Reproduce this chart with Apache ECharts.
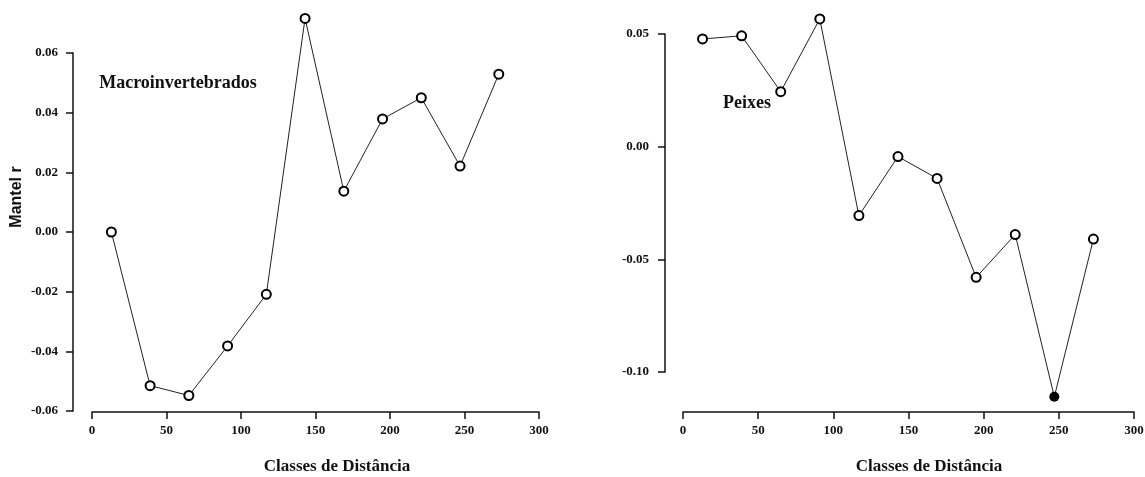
<!DOCTYPE html>
<html>
<head>
<meta charset="utf-8">
<script src="https://cdn.jsdelivr.net/npm/echarts@6/dist/echarts.min.js"></script>
<style>
  html, body { margin: 0; padding: 0; background: #fff; }
  #chart { width: 1145px; height: 477px; }
</style>
</head>
<body>
<div id="chart"></div>
<script>
// classes de distância (centro de cada classe)
var distClasses = [13, 39, 65, 91, 117, 143, 169, 195, 221, 247, 273];
// Mantel r - macroinvertebrados
var macroR = [0.000, -0.0515, -0.0548, -0.0382, -0.0209, 0.0716, 0.0137, 0.0379, 0.0450, 0.0221, 0.0529];
// Mantel r - peixes
var peixesR = [0.0478, 0.0492, 0.0244, 0.0567, -0.0306, -0.0044, -0.0141, -0.0580, -0.0390, -0.1110, -0.0410];
// classe significativa (ponto cheio) nos peixes
var peixesSig = [false, false, false, false, false, false, false, false, false, true, false];

var xTicks = [0, 300, 50];
var macroTicks = [-0.06, 0.06, 0.02];
var peixesTicks = [-0.10, 0.05, 0.05];

var serif = 'Liberation Serif';
var ink = '#111';

function toPairs(ys, sig) {
  return distClasses.map(function (x, i) {
    var d = { value: [x, ys[i]] };
    if (sig && sig[i]) {
      d.symbol = 'circle';
      d.symbolSize = 10;
    }
    return d;
  });
}

function xAxisFor(idx, offset) {
  return {
    type: 'value', gridIndex: idx,
    min: xTicks[0], max: xTicks[1], interval: xTicks[2],
    offset: offset,
    axisLine: { onZero: false, lineStyle: { color: ink, width: 1.5 } },
    axisTick: { length: 7, lineStyle: { color: ink, width: 1.5 } },
    axisLabel: { fontFamily: serif, fontSize: 13, fontWeight: 'bold', color: ink, margin: 12 },
    splitLine: { show: false }
  };
}

function yAxisFor(idx, ticks, offset, margin) {
  return {
    type: 'value', gridIndex: idx,
    min: ticks[0], max: ticks[1], interval: ticks[2],
    offset: offset,
    axisLine: { show: true, onZero: false, lineStyle: { color: ink, width: 1.5 } },
    axisTick: { show: true, length: 7, lineStyle: { color: ink, width: 1.5 } },
    axisLabel: {
      fontFamily: serif, fontSize: 13, fontWeight: 'bold', color: ink, margin: margin,
      formatter: function (v) { return v.toFixed(2); }
    },
    splitLine: { show: false }
  };
}

function lineSeries(idx, ys, sig) {
  return {
    type: 'line', xAxisIndex: idx, yAxisIndex: idx,
    data: toPairs(ys, sig),
    clip: false,
    showSymbol: true, showAllSymbol: true,
    symbol: 'emptyCircle', symbolSize: 9,
    lineStyle: { color: '#222', width: 1 },
    itemStyle: { color: '#000', borderWidth: 1.6 },
    emphasis: { disabled: true },
    z: 3
  };
}

function label(text, x, y, size, extra) {
  var st = { text: text, fontFamily: serif, fontSize: size, fontWeight: 'bold', fill: ink, align: 'center', verticalAlign: 'middle' };
  var el = { type: 'text', x: x, y: y, style: st };
  if (extra) { for (var k in extra) el[k] = extra[k]; }
  return el;
}

var chart = echarts.init(document.getElementById('chart'));
chart.setOption({
  animation: false,
  backgroundColor: '#fff',
  grid: [
    { left: 92, top: 53, width: 447, height: 358, outerBoundsMode: 'none', containLabel: false },
    { left: 683, top: 34, width: 451, height: 338, outerBoundsMode: 'none', containLabel: false }
  ],
  xAxis: [xAxisFor(0, 1), xAxisFor(1, 40)],
  yAxis: [yAxisFor(0, macroTicks, 19, 15), yAxisFor(1, peixesTicks, 18, 16)],
  series: [lineSeries(0, macroR), lineSeries(1, peixesR, peixesSig)],
  graphic: [
    {
      type: 'text', x: 17, y: 197, rotation: Math.PI / 2,
      style: { text: 'Mantel r', fontFamily: 'Liberation Sans', fontSize: 16, fontWeight: 'bold', fill: ink, align: 'center', verticalAlign: 'middle' }
    },
    label('Classes de Distância', 337, 467, 17),
    label('Classes de Distância', 929, 467, 17),
    label('Macroinvertebrados', 178, 83, 18),
    label('Peixes', 747, 103, 18)
  ]
});
</script>
</body>
</html>
